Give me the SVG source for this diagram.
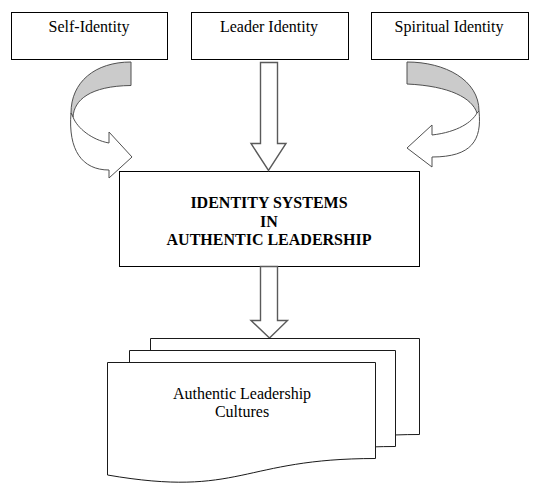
<svg xmlns="http://www.w3.org/2000/svg" width="539" height="492" viewBox="0 0 539 492">
<style>
  .box { fill: #ffffff; stroke: #000000; stroke-width: 1; }
  .page { fill: #ffffff; stroke: #1a1a1a; stroke-width: 1; }
  .block { fill: #ffffff; stroke: #5a5a5a; stroke-width: 1.4; stroke-linejoin: miter; }
  .curve-back { fill: #cbcbcb; stroke: #505050; stroke-width: 1; }
  .curve-front { fill: #ffffff; stroke: #505050; stroke-width: 1; }
  .t { font-family: "Liberation Serif", "Times New Roman", serif; font-size: 16px; fill: #000000; text-anchor: middle; }
  .tb { font-weight: bold; }
</style>
<rect width="539" height="492" fill="#ffffff"/>

<g id="self-identity">
  <rect class="box" x="11.5" y="12.5" width="156" height="47"/>
  <text class="t" x="89" y="31.5">Self-Identity</text>
</g>

<g id="leader-identity">
  <rect class="box" x="191.5" y="12.5" width="157" height="47"/>
  <text class="t" x="269" y="31.5">Leader Identity</text>
</g>

<g id="spiritual-identity">
  <rect class="box" x="371.5" y="12.5" width="157" height="47"/>
  <text class="t" x="449" y="31.5">Spiritual Identity</text>
</g>

<g id="identity-systems">
  <rect class="box" x="119.5" y="171.5" width="300" height="95"/>
  <text class="t tb" x="269" y="208">IDENTITY SYSTEMS</text>
  <text class="t tb" x="269" y="226.5">IN</text>
  <text class="t tb" x="269" y="245">AUTHENTIC LEADERSHIP</text>
</g>

<g id="connectors">
  <!-- Self-Identity curved arrow -->
  <path class="curve-back" d="M131,62 C95,62 71,82 71,113 L73,117 C74,100 90,86 131,85.5 Z"/>
  <path class="curve-front" d="M71,113 C68,150 82,170 109,170 L109,178 L132,157 L109,132 L109,143 C92,140 77,128 73,117 Z"/>
  <!-- Leader Identity block arrow -->
  <path class="block" d="M260.5,62.5 H277.5 V143.5 H286 L268.5,170.5 L251,143.5 H260.5 Z"/>
  <!-- Spiritual Identity curved arrow -->
  <path class="curve-back" d="M407,62 C445,62 479,80 479,111 L477,113 C472,98 450,86 407,84 Z"/>
  <path class="curve-front" d="M479,111 C482,140 472,157 432,157 L432,167 L407,148 L432,125 L432,135 C458,132 472,122 477,113 Z"/>
  <!-- Down arrow to cultures -->
  <path class="block" d="M260.5,266.5 H277.5 V320.5 H287.5 L269.5,338 L251,320.5 H260.5 Z"/>
</g>

<g id="authentic-leadership-cultures">
  <path class="page" d="M150.5,338.5 H419.5 V434.5 C285,434.5 285,474 150.5,451 Z"/>
  <path class="page" d="M129.5,350.5 H395.5 V446.5 C262,446.5 262,486 129.5,463 Z"/>
  <path class="page" d="M107.5,362.5 H375.5 V458.5 C241,458.5 241,498 107.5,475 Z"/>
  <text class="t" x="242" y="399">Authentic Leadership</text>
  <text class="t" x="242" y="417">Cultures</text>
</g>
</svg>
